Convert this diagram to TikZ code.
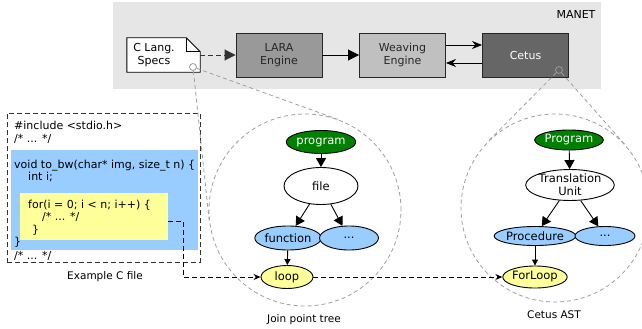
\documentclass[tikz,border=0pt]{standalone}
\usepackage{fontspec}
\setmainfont{DejaVu Sans}
\usetikzlibrary{arrows.meta,shapes.geometric,calc}

\definecolor{manetgray}{HTML}{E6E6E6}
\definecolor{laragray}{HTML}{999999}
\definecolor{weavegray}{HTML}{C0C0C0}
\definecolor{cetusgray}{HTML}{666666}
\definecolor{fnblue}{HTML}{99CCFF}
\definecolor{loopyellow}{HTML}{FFFF99}
\definecolor{rootgreen}{HTML}{008000}

\tikzset{
  every node/.style={font=\fontsize{11}{13}\selectfont},
  engine/.style={draw=black!85,line width=0.9pt,minimum width=86pt,minimum height=44pt,
                 align=center,inner sep=0pt},
  jpnode/.style={ellipse,draw=black,line width=0.9pt,inner sep=0pt,
                 font=\fontsize{11.5}{13}\selectfont},
  codeline/.style={anchor=base west,inner sep=0pt},
  caption/.style={font=\fontsize{10.5}{12}\selectfont},
  zoomcirc/.style={circle,draw=black!38,line width=0.8pt,dash pattern=on 4pt off 3pt,
                   inner sep=0pt},
  zoomline/.style={draw=black!38,line width=0.8pt,dash pattern=on 4pt off 3pt},
  spot/.style={circle,draw=black!40,line width=0.8pt,inner sep=0pt,minimum size=7pt},
  bigarrow/.style={line width=0.9pt,-{Triangle[length=11pt,width=11pt]}},
  midarrow/.style={line width=0.9pt,-{Stealth[length=10pt,width=8pt]}},
  treearrow/.style={line width=0.9pt,-{Triangle[length=9pt,width=10pt]}},
  smallarrow/.style={line width=0.9pt,-{Triangle[length=6pt,width=6pt]}},
  codelink/.style={line width=1pt,dash pattern=on 5pt off 3pt,
                   -{Stealth[length=7pt,width=6pt]}}
}

\begin{document}
\begin{tikzpicture}[x=1pt,y=-1pt]
\useasboundingbox (0,0) rectangle (642,329);

% MANET framework
\fill[manetgray] (113,2) rectangle (601,89);
\node (manet) at (576,14) {MANET};

\node (specs) [minimum width=73pt,minimum height=34pt,inner sep=0pt] at (163.5,55) {};
\draw[fill=white,draw=black,line width=0.9pt] (specs.south west) -- (specs.north west)
  -- ([xshift=-14pt]specs.north east) -- ([yshift=-14pt]specs.north east)
  -- (specs.south east) -- cycle;
\draw[line width=0.9pt] ([xshift=-14pt]specs.north east) |- ([yshift=-14pt]specs.north east);
\node (specstext) [align=center] at (154,55) {C Lang.\\Specs};

\node (lara) [engine,fill=laragray,text=black!85] at (279,55) {LARA\\Engine};
\node (weaver) [engine,fill=weavegray,text=black!85] at (402.5,55) {Weaving\\Engine};
\node (cetus) [engine,fill=cetusgray,text=white] at (525.5,55) {Cetus};

\draw[bigarrow,black!80,dash pattern=on 5pt off 3pt] (specs.east) -- (lara.west);
\draw[bigarrow] (lara) -- (weaver);
\draw[midarrow] ([yshift=10pt]weaver.east) -- ([yshift=10pt]cetus.west);
\draw[midarrow] ([yshift=-8pt]cetus.west) -- ([yshift=-8pt]weaver.east);

% Example C file
\node (codebox) [draw=black!80,line width=1pt,dash pattern=on 5pt off 3pt,
                 minimum width=193pt,minimum height=149pt,inner sep=0pt]
  at (103.5,187.5) {};
\node (fnblk) [fill=fnblue,minimum width=187pt,minimum height=100pt,inner sep=0pt]
  at (104.5,200) {};
\node (forblk) [fill=loopyellow,minimum width=148pt,minimum height=47pt,inner sep=0pt]
  at (94,216.5) {};
\node (c1) [codeline] at (14,129.5) {\#include <stdio.h>};
\node (c2) [codeline] at (14,142) {/* ... */};
\node (c3) [codeline] at (14,168) {void to\_bw(char* img, size\_t n) \{};
\node (c4) [codeline] at (28,180.5) {int i;};
\node (c5) [codeline] at (28,208) {for(i = 0; i < n; i++) \{};
\node (c6) [codeline] at (42,220.5) {/* ... */};
\node (c7) [codeline] at (32,233) {\}};
\node (c8) [codeline] at (14,245.5) {\}};
\node (c9) [codeline] at (14,259) {/* ... */};
\node (codecap) [caption] at (105,277) {Example C file};

% Join point tree
\node (jpcirc) [zoomcirc,minimum size=192pt] at (305,210) {};
\node (jpprog) [jpnode,fill=rootgreen,text=white,minimum width=56pt,minimum height=23pt]
  at (321,142) {program};
\node (jpfile) [jpnode,fill=white,minimum width=74pt,minimum height=37pt]
  at (321,186) {file};
\node (jpfunc) [jpnode,fill=fnblue,minimum width=59pt,minimum height=24pt]
  at (288,238) {function};
\node (jpmore) [jpnode,fill=fnblue,minimum width=59pt,minimum height=24pt]
  at (349,238) {...};
\node (jploop) [jpnode,fill=loopyellow,minimum width=52pt,minimum height=23pt]
  at (287,277) {loop};
\node (jpcap) [caption] at (304,320) {Join point tree};
\draw[treearrow] (jpprog) -- (jpfile);
\draw[treearrow] (jpfile) -- (jpfunc);
\draw[treearrow] (jpfile) -- (jpmore);
\draw[smallarrow] (jpfunc) -- (jploop);

% Cetus AST
\node (astcirc) [zoomcirc,minimum size=188pt] at (555,208) {};
\node (astprog) [jpnode,fill=rootgreen,text=white,minimum width=57pt,minimum height=20pt]
  at (569,140) {Program};
\node (astunit) [jpnode,fill=white,align=center,minimum width=84pt,minimum height=30pt]
  at (570,185) {Translation\\Unit};
\node (astproc) [jpnode,fill=fnblue,minimum width=66pt,minimum height=19pt]
  at (535,236) {Procedure};
\node (astmore) [jpnode,fill=fnblue,minimum width=60pt,minimum height=19pt]
  at (605,236) {...};
\node (astloop) [jpnode,fill=loopyellow,minimum width=64pt,minimum height=22pt]
  at (535,277) {ForLoop};
\node (astcap) [caption] at (554,315) {Cetus AST};
\draw[treearrow] (astprog) -- (astunit);
\draw[treearrow] (astunit) -- (astproc);
\draw[treearrow] (astunit) -- (astmore);
\draw[smallarrow] (astproc) -- (astloop);

% zoom lines
\node (specsspot) [spot] at (193,67) {};
\node (cetusspot) [spot] at (559,70) {};
\draw[zoomline] (specsspot) -- (tangent cs:node=jpcirc,point={(specsspot)},solution=1);
\draw[zoomline] (specsspot) -- (tangent cs:node=jpcirc,point={(specsspot)},solution=2);
\draw[zoomline] (cetusspot) -- (tangent cs:node=astcirc,point={(cetusspot)},solution=1);
\draw[zoomline] (cetusspot) -- (tangent cs:node=astcirc,point={(cetusspot)},solution=2);

% for loop mapping
\draw[codelink] ([yshift=-4.5pt]forblk.east) -- ++(15,0) |- (jploop.west);
\draw[codelink] (jploop) -- (astloop);
\end{tikzpicture}
\end{document}
